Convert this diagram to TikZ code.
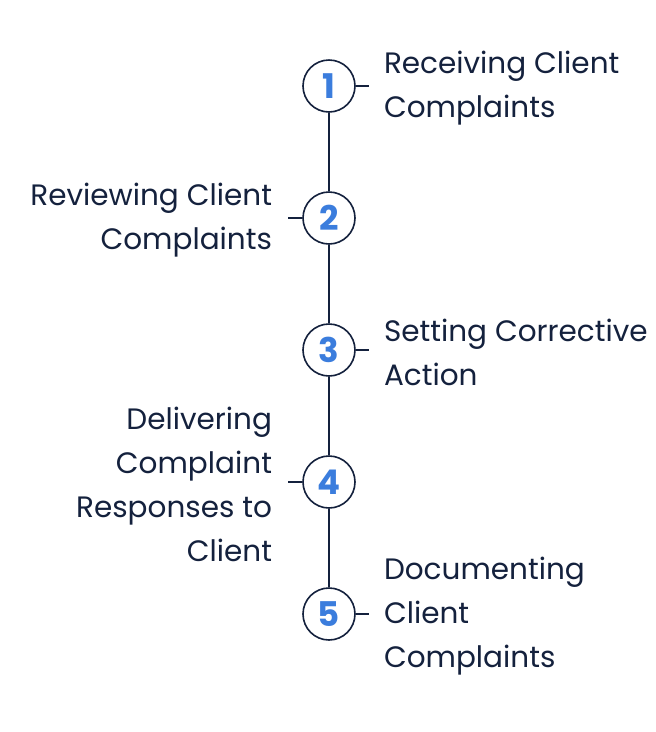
\documentclass[tikz,border=0pt]{standalone}
\usepackage{fontspec}
\setmainfont{Poppins}
\usetikzlibrary{positioning}
\definecolor{navy}{HTML}{14213D}
\definecolor{stepblue}{HTML}{3B7DDD}

\begin{document}
\begin{tikzpicture}[
    node distance=78.4pt,
    every node/.style={text=navy},
    stepnum/.style={draw=navy, line width=1.6pt, circle, minimum size=52pt,
                    inner sep=0pt, fill=white,
                    font=\fontsize{34}{34}\selectfont\bfseries, text=stepblue},
    label r/.style={anchor=west, align=left, inner sep=0pt, yshift=-2.5pt,
                    font=\fontsize{29.5}{44}\selectfont},
    label l/.style={anchor=east, align=right, inner sep=0pt, yshift=-2.5pt,
                    font=\fontsize{29.5}{44}\selectfont},
    tick/.style={draw=navy, line width=1.6pt},
]
\useasboundingbox (0,0) rectangle (656pt,-732pt);

% timeline steps
\node[stepnum] at (329pt,-86pt) (s1) {1};
\node[stepnum, below=of s1]     (s2) {2};
\node[stepnum, below=of s2]     (s3) {3};
\node[stepnum, below=of s3]     (s4) {4};
\node[stepnum, below=of s4]     (s5) {5};

\draw[tick] (s1) -- (s2);
\draw[tick] (s2) -- (s3);
\draw[tick] (s3) -- (s4);
\draw[tick] (s4) -- (s5);

% short ticks
\coordinate[right=13pt of s1.east] (k1);
\coordinate[left=14pt of s2.west]  (k2);
\coordinate[right=13pt of s3.east] (k3);
\coordinate[left=14pt of s4.west]  (k4);
\coordinate[right=13pt of s5.east] (k5);
\draw[tick] (s1.east) -- (k1);
\draw[tick] (s2.west) -- (k2);
\draw[tick] (s3.east) -- (k3);
\draw[tick] (s4.west) -- (k4);
\draw[tick] (s5.east) -- (k5);

% labels
\node[label r, right=28pt of s1.east] (t1) {Receiving Client\\Complaints};
\node[label l, left=30pt of s2.west]  (t2) {Reviewing Client\\Complaints};
\node[label r, right=28pt of s3.east] (t3) {Setting Corrective\\Action};
\node[label l, left=30pt of s4.west]  (t4) {Delivering\\Complaint\\Responses to\\Client};
\node[label r, right=28pt of s5.east] (t5) {Documenting\\Client\\Complaints};

\end{tikzpicture}
\end{document}
